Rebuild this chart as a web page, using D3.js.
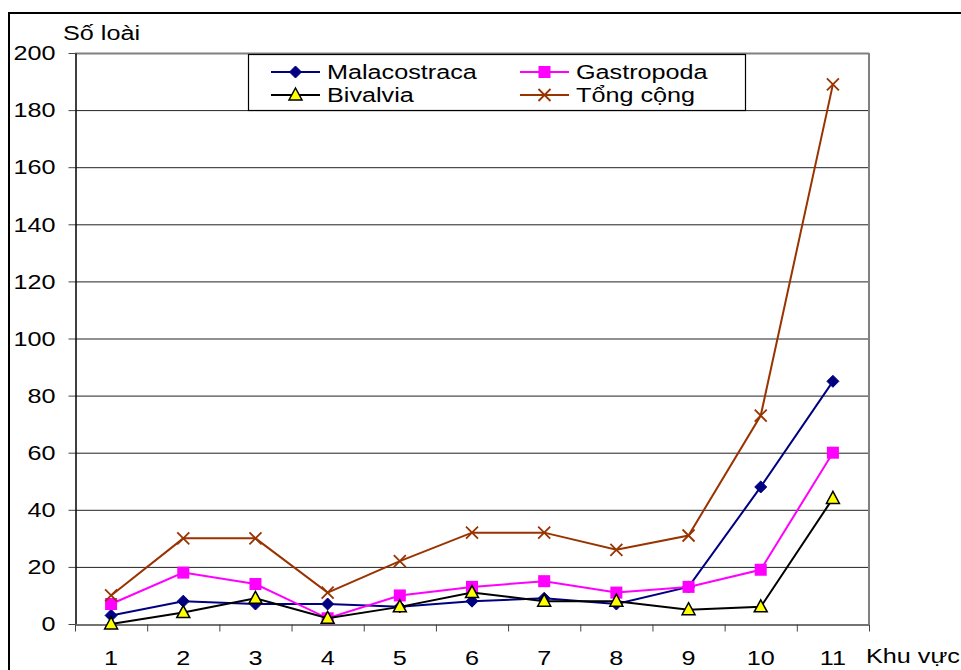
<!DOCTYPE html>
<html><head><meta charset="utf-8">
<script src="https://cdn.jsdelivr.net/npm/d3@7"></script>
<style>body{margin:0;background:#fff}svg{display:block}text{font-family:"Liberation Sans",Arial,sans-serif;fill:#000}</style>
</head><body>
<svg id="c" width="961" height="670"></svg>
<script>
const categories = ["1","2","3","4","5","6","7","8","9","10","11"];
const malacostraca = [3,8,7,7,6,8,9,7,13,48,85];
const gastropoda = [7,18,14,2,10,13,15,11,13,19,60];
const bivalvia = [0,4,9,2,6,11,8,8,5,6,44];
const tongCong = [10,30,30,11,22,32,32,26,31,73,189];
const yTicks = [0,20,40,60,80,100,120,140,160,180,200];
const seriesNames = ["Malacostraca","Gastropoda","Bivalvia","Tổng cộng"];

const SX = 1.2; // horizontal stretch of the original's text
function stretch(sel) {
  sel.each(function() {
    const t = d3.select(this);
    const xv = +(t.attr("x") || 0);
    t.attr("x", xv / SX).attr("transform", `scale(${SX},1)`);
  });
}

const svg = d3.select("#c");
const L = 75, R = 869, T = 53, B = 624;
const x = d3.scaleBand().domain(categories).range([L, R]);
const y = d3.scaleLinear().domain([0, 200]).range([B, T]);

// outer frame
svg.append("rect").attr("x", 9).attr("y", 13).attr("width", 970).attr("height", 680)
  .attr("fill", "none").attr("stroke", "#000").attr("stroke-width", 2);

// gridlines
const g = svg.append("g");
g.selectAll("line.grid").data(yTicks.slice(1)).join("line")
  .attr("x1", L).attr("x2", R).attr("y1", d => y(d) + 0.5).attr("y2", d => y(d) + 0.5)
  .attr("stroke", d => d === 200 ? "#808080" : "#222").attr("stroke-width", d => d === 200 ? 2 : 1);
// right border
svg.append("line").attr("x1", R).attr("x2", R).attr("y1", T).attr("y2", B)
  .attr("stroke", "#808080").attr("stroke-width", 2);

// y axis
const yAxis = d3.axisLeft(y).tickValues(yTicks).tickSize(7).tickSizeOuter(0).tickPadding(13);
const ya = svg.append("g").attr("transform", `translate(${L + 0.5},0)`).call(yAxis);
ya.select(".domain").attr("stroke", "#000").attr("stroke-width", 1.5);
ya.selectAll(".tick line").attr("stroke", "#444");
ya.selectAll("text").attr("font-size", 21).attr("font-family", "Liberation Sans, Arial, sans-serif");
stretch(ya.selectAll("text"));

// x axis
const xAxis = d3.axisBottom(x).tickSize(0).tickPadding(26);
const xa = svg.append("g").attr("transform", `translate(0,${B + 0.5})`).call(xAxis);
xa.select(".domain").attr("stroke", "#444").attr("stroke-width", 1.5);
xa.selectAll("text").attr("font-size", 21).attr("font-family", "Liberation Sans, Arial, sans-serif");
stretch(xa.selectAll("text"));
const edges = categories.map(c => x(c)).concat([R]);
xa.selectAll("line.tk").data(edges).join("line").attr("class", "tk")
  .attr("x1", d => d + 0.5).attr("x2", d => d + 0.5).attr("y1", 0).attr("y2", 7)
  .attr("stroke", "#444");

// axis titles
const t1 = svg.append("text").attr("x", 63).attr("y", 40).attr("font-size", 21).text("Số loài");
const t2 = svg.append("text").attr("x", 866).attr("y", 663).attr("font-size", 21).text("Khu vực");
stretch(t1); stretch(t2);

const cx = c => x(c) + x.bandwidth() / 2;
const line = d3.line().x((d, i) => cx(categories[i])).y(d => y(d));

const series = [
  {name: seriesNames[0], data: malacostraca, color: "#000080", marker: "diamond"},
  {name: seriesNames[1], data: gastropoda, color: "#FF00FF", marker: "square"},
  {name: seriesNames[2], data: bivalvia, color: "#000000", marker: "triangle"},
  {name: seriesNames[3], data: tongCong, color: "#993300", marker: "x"}
];

function drawMarker(sel, s, px, py) {
  if (s.marker === "diamond") {
    sel.append("path").attr("d", `M${px},${py-6}L${px+6},${py}L${px},${py+6}L${px-6},${py}Z`)
      .attr("fill", s.color).attr("stroke", s.color);
  } else if (s.marker === "square") {
    sel.append("rect").attr("x", px - 6).attr("y", py - 6).attr("width", 12).attr("height", 12)
      .attr("fill", s.color);
  } else if (s.marker === "triangle") {
    sel.append("path").attr("d", `M${px},${py-7}L${px+6.5},${py+5}L${px-6.5},${py+5}Z`)
      .attr("fill", "#FFFF00").attr("stroke", "#000").attr("stroke-width", 1.5);
  } else {
    sel.append("path").attr("d", `M${px-6},${py-6}L${px+6},${py+6}M${px-6},${py+6}L${px+6},${py-6}`)
      .attr("stroke", s.color).attr("stroke-width", 1.8).attr("fill", "none");
  }
}

series.forEach(s => {
  const gs = svg.append("g");
  gs.append("path").attr("d", line(s.data)).attr("fill", "none")
    .attr("stroke", s.color).attr("stroke-width", 2);
  s.data.forEach((v, i) => drawMarker(gs, s, cx(categories[i]), y(v)));
});

// legend
const lg = svg.append("g");
lg.append("rect").attr("x", 248.5).attr("y", 54.5).attr("width", 497).attr("height", 56)
  .attr("fill", "#fff").attr("stroke", "#000").attr("stroke-width", 1.2);
const legPos = [[271, 72], [520, 72], [271, 95], [520, 95]];
series.forEach((s, i) => {
  const [lx, ly] = legPos[i];
  lg.append("line").attr("x1", lx).attr("x2", lx + 49).attr("y1", ly).attr("y2", ly)
    .attr("stroke", s.color).attr("stroke-width", 2);
  drawMarker(lg, s, lx + 24.5, ly);
  const tx = lg.append("text").attr("x", lx + 56).attr("y", ly + 7.5).attr("font-size", 21).text(s.name);
  stretch(tx);
});
</script>
</body></html>
